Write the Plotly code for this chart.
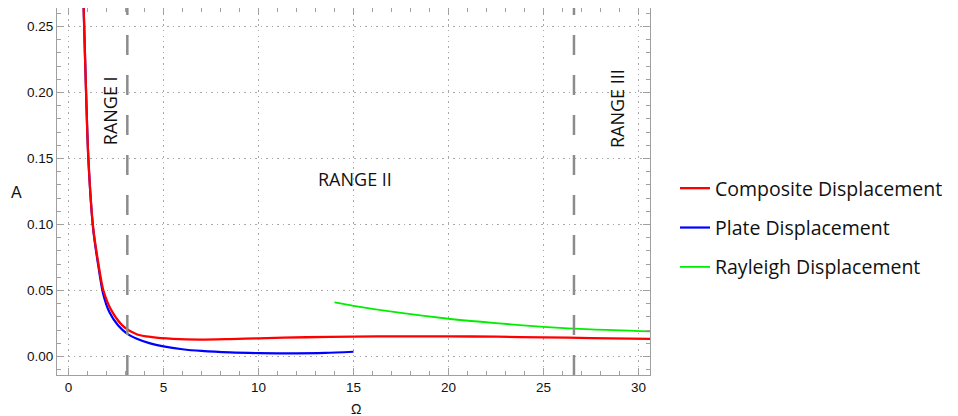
import plotly.graph_objects as go

# Data
composite_x = [0.77, 0.83, 0.93, 1.05, 1.30, 1.57, 1.84, 2.30, 2.97, 3.62, 4.4, 5.5, 6.9, 8.5, 10.0, 12.5, 15.0, 17.5, 20.0, 22.5, 25.0, 27.5, 30.6]
composite_y = [0.28, 0.25, 0.20, 0.15, 0.098, 0.071, 0.050, 0.034, 0.0218, 0.0167, 0.0147, 0.0134, 0.0128, 0.0132, 0.0138, 0.0146, 0.0151, 0.0153, 0.0153, 0.0150, 0.0145, 0.0140, 0.0134]

plate_x = [0.77, 0.83, 0.93, 1.05, 1.30, 1.57, 1.82, 2.16, 2.62, 3.1, 3.6, 4.3, 5.0, 6.0, 7.0, 8.5, 10.0, 12.0, 13.5, 15.0]
plate_y = [0.28, 0.25, 0.20, 0.15, 0.097, 0.069, 0.048, 0.0335, 0.0235, 0.0172, 0.0135, 0.0100, 0.0077, 0.0055, 0.0042, 0.0031, 0.0026, 0.0024, 0.0027, 0.0036]

rayleigh_x = [14.0, 15.0, 17.5, 20.0, 22.5, 25.0, 27.5, 30.6]
rayleigh_y = [0.041, 0.0384, 0.0330, 0.0286, 0.0253, 0.0225, 0.0205, 0.0190]

range_bounds = [3.1, 26.6]
range_labels = ["RANGE I", "RANGE II", "RANGE III"]
range_label_x = [2.2, 15.1, 28.9]
range_label_y = [0.186, 0.1345, 0.188]
range_label_angle = [-90, 0, -90]

x_ticks = [0, 5, 10, 15, 20, 25, 30]
y_ticks = [0.00, 0.05, 0.10, 0.15, 0.20, 0.25]

# figure is placed 8px inside the page (body margin), so sizes account for that
FIG_W, FIG_H = 950, 408
ML, MR, MT, MB = 49, 308, 0, 41
PW, PH = FIG_W - ML - MR, FIG_H - MT - MB

fig = go.Figure()
series = {
    "Composite Displacement": (composite_x, composite_y, "#ff0000", 2.3, 1),
    "Plate Displacement": (plate_x, plate_y, "#0000ff", 2.2, 2),
    "Rayleigh Displacement": (rayleigh_x, rayleigh_y, "#00ee00", 1.8, 3),
}
for name in ["Plate Displacement", "Composite Displacement", "Rayleigh Displacement"]:
    xs, ys, col, w, rank = series[name]
    fig.add_trace(go.Scatter(x=xs, y=ys, mode="lines", name=name, legendgroup=name, legendrank=rank,
                             line=dict(color=col, width=w, shape="spline", smoothing=0.8)))

for b in range_bounds:
    fig.add_shape(type="line", xref="x", yref="paper", x0=b, x1=b, y0=0, y1=1,
                  line=dict(color="#8c8c8c", width=2.5, dash="20px,20px"), layer="above")

for t, lx, ly, ang in zip(range_labels, range_label_x, range_label_y, range_label_angle):
    fig.add_annotation(x=lx, y=ly, xref="x", yref="y", text=t, showarrow=False, textangle=ang,
                       font=dict(family="Open Sans", size=18, color="#111111"))

# axis titles (page px -> paper coords)
fig.add_annotation(x=(16.5 - 8 - ML) / PW, y=(PH - (192.5 - 8)) / PH, xref="paper", yref="paper", text="A",
                   xanchor="center", yanchor="middle", showarrow=False,
                   font=dict(family="Liberation Sans", size=16, color="#111111"))
fig.add_annotation(x=(356 - 8 - ML) / PW, y=(PH - (409 - 8)) / PH, xref="paper", yref="paper", text="Ω",
                   xanchor="center", yanchor="middle", showarrow=False,
                   font=dict(family="Liberation Sans", size=14, color="#111111"))

axis_common = dict(showline=True, linecolor="#a0a0a0", linewidth=1, mirror="ticks",
                   ticks="inside", ticklen=7, tickcolor="#a0a0a0", tickwidth=1,
                   showgrid=True, gridcolor="#a8a8a8", griddash="1.5px,4px", gridwidth=1,
                   zeroline=False, tickfont=dict(family="Liberation Sans", size=13.5, color="#111111"))

fig.update_xaxes(range=[-0.6, 30.6], tickvals=x_ticks, ticktext=[str(v) for v in x_ticks],
                 minor=dict(ticks="inside", ticklen=4, dtick=1, tick0=0, tickcolor="#a0a0a0", showgrid=False),
                 **axis_common)
fig.update_yaxes(range=[-0.014, 0.264], tickvals=y_ticks, ticktext=[f"{v:.2f}" for v in y_ticks],
                 minor=dict(ticks="inside", ticklen=4, dtick=0.01, tick0=0, tickcolor="#a0a0a0", showgrid=False),
                 **axis_common)

fig.update_layout(
    width=FIG_W, height=FIG_H,
    margin=dict(l=ML, r=MR, t=MT, b=MB, autoexpand=False),
    paper_bgcolor="white", plot_bgcolor="white",
    showlegend=True,
    legend=dict(x=(675 - 8 - ML) / PW, y=(PH - (228 - 8)) / PH, xanchor="left", yanchor="middle",
                tracegroupgap=11, font=dict(family="Open Sans", size=19.5, color="#111111"),
                bgcolor="rgba(0,0,0,0)"),
)

fig.write_html("out.html")
